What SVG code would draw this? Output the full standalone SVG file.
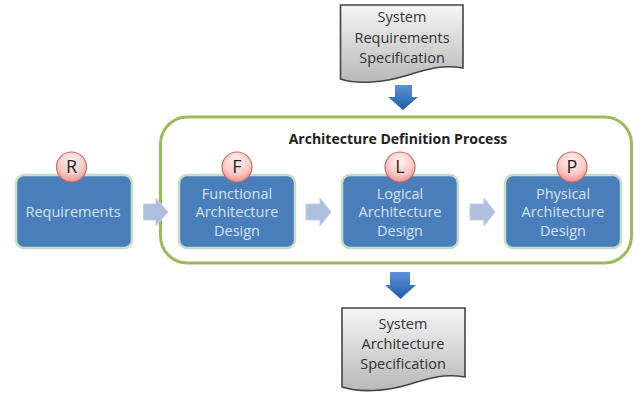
<svg xmlns="http://www.w3.org/2000/svg" width="634" height="393" viewBox="0 0 634 393">
<style>
text{font-family:"Open Sans","Noto Sans","Liberation Sans",sans-serif;text-anchor:middle}
.box{fill:#4a7ebb;stroke:#c4dfc6;stroke-width:2.500}
.lbl{fill:#d5e2f2;font-size:14.500px}
.doc{fill:url(#docg);stroke:#444;stroke-width:1.600}
.dt{fill:#333;font-size:14.500px}
.badge{fill:url(#bg);stroke:#c06f6f;stroke-width:1.200}
.bt{fill:#222;font-size:18px}
.side{fill:#adbfdd;stroke:#c3cfe4;stroke-width:1}
.down{fill:url(#dg)}
</style>
<defs>
<linearGradient id="docg" x1="0" y1="0" x2="0" y2="1"><stop offset="0" stop-color="#f6f6f6"/><stop offset="1" stop-color="#b8b8b8"/></linearGradient>
<radialGradient id="bg" cx="0.5" cy="0.3" r="0.75"><stop offset="0" stop-color="#fff0ee"/><stop offset="0.6" stop-color="#fcc9c6"/><stop offset="1" stop-color="#ec8582"/></radialGradient>
<linearGradient id="dg" x1="0" y1="0" x2="0" y2="1"><stop offset="0" stop-color="#5b93d8"/><stop offset="1" stop-color="#1f5da8"/></linearGradient>
</defs>
<g id="process"><rect x="160.500" y="117" width="471" height="146" rx="27" fill="#fff" stroke="#9bbb59" stroke-width="3"/>
<text x="398" y="144" font-size="14" font-weight="700" fill="#222">Architecture Definition Process</text></g>
<g id="connectors">
<path class="down" d="M395 85H412V97H418L403 110L388 97H395Z"/>
<path class="down" d="M390 272H410V285H416L400.500 299L385 285H390Z"/>
<path class="side" d="M143.500 204H156V198L168 212L156 226V220H143.500Z"/>
<path class="side" d="M306 204H320V198L331 212L320 226V220H306Z"/>
<path class="side" d="M470 204H484V198L495 212L484 226V220H470Z"/>
</g>
<g id="requirements"><rect class="box" x="16" y="175" width="116" height="73" rx="8"/><text class="lbl" x="73" y="217">Requirements</text></g>
<g id="badge-r"><circle class="badge" cx="71.500" cy="167" r="15"/><text class="bt" x="71.500" y="173">R</text></g>
<g id="functional"><rect class="box" x="179" y="175" width="116" height="73" rx="8"/><text class="lbl" x="237" y="199">Functional</text><text class="lbl" x="237" y="217">Architecture</text><text class="lbl" x="237" y="236">Design</text></g>
<g id="badge-f"><circle class="badge" cx="237" cy="167" r="15"/><text class="bt" x="237" y="173">F</text></g>
<g id="logical"><rect class="box" x="342" y="175" width="116" height="73" rx="8"/><text class="lbl" x="400" y="199">Logical</text><text class="lbl" x="400" y="217">Architecture</text><text class="lbl" x="400" y="236">Design</text></g>
<g id="badge-l"><circle class="badge" cx="400" cy="167" r="15"/><text class="bt" x="400" y="173">L</text></g>
<g id="physical"><rect class="box" x="505" y="175" width="116" height="73" rx="8"/><text class="lbl" x="563" y="199">Physical</text><text class="lbl" x="563" y="217">Architecture</text><text class="lbl" x="563" y="236">Design</text></g>
<g id="badge-p"><circle class="badge" cx="572" cy="167" r="15"/><text class="bt" x="572" y="173">P</text></g>
<g id="sys-req"><path class="doc" d="M340.500 5H463V68C440 64 425 70 405 76C385 82 358 85 340.500 79Z"/><text class="dt" x="402" y="22">System</text><text class="dt" x="402" y="43">Requirements</text><text class="dt" x="402" y="63">Specification</text></g>
<g id="sys-arch"><path class="doc" d="M342 308H465V377C442 373 427 379 407 385C387 391 360 393 342 387Z"/><text class="dt" x="403" y="329">System</text><text class="dt" x="403" y="349">Architecture</text><text class="dt" x="403" y="369">Specification</text></g>
</svg>
